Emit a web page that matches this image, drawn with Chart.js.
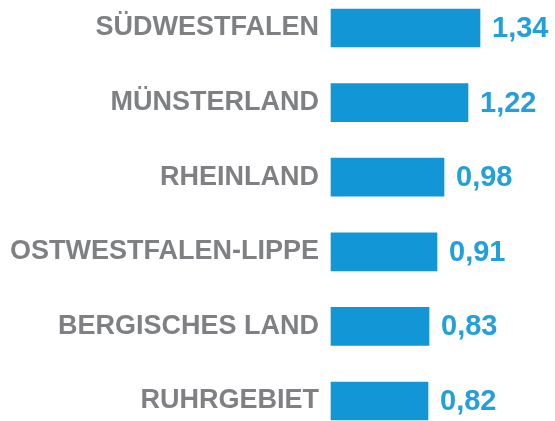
<!DOCTYPE html>
<html>
<head>
<meta charset="utf-8">
<script src="https://cdn.jsdelivr.net/npm/chart.js@4"></script>
<style>
  html, body { margin: 0; padding: 0; background: #fff; }
  #wrap { width: 555px; height: 421px; }
</style>
</head>
<body>
<div id="wrap"><canvas id="barChart" width="555" height="421"></canvas></div>
<script>
// DATA
const regions = ["SÜDWESTFALEN", "MÜNSTERLAND", "RHEINLAND", "OSTWESTFALEN-LIPPE", "BERGISCHES LAND", "RUHRGEBIET"];
const values = [1.34, 1.22, 0.98, 0.91, 0.83, 0.82];

const barBlue = "#1396d5";
const textBlue = "#22a0dc";
const labelGrey = "#7f8083";
const fontFam = "'Liberation Sans', Arial, sans-serif";

// value labels right of each bar, german decimal comma
const valueLabels = {
  id: "valueLabels",
  afterDatasetsDraw(chart) {
    const ctx = chart.ctx;
    const meta = chart.getDatasetMeta(0);
    ctx.save();
    ctx.font = "bold 29px " + fontFam;
    ctx.fillStyle = textBlue;
    ctx.textAlign = "left";
    ctx.textBaseline = "middle";
    meta.data.forEach((bar, i) => {
      let txt = values[i].toFixed(2).replace(".", ",");
      ctx.fillText(txt, bar.x + 12, bar.y + 1);
    });
    ctx.restore();
  },
};

new Chart(document.getElementById("barChart").getContext("2d"), {
  type: "bar",
  data: {
    labels: regions,
    datasets: [
      {
        data: values,
        backgroundColor: barBlue,
        borderWidth: 0,
        barThickness: 38,
        base: -0.15,
        clip: false,
      },
    ],
  },
  options: {
    indexAxis: "y",
    responsive: false,
    animation: false,
    layout: { padding: { top: 28, bottom: 20, left: 0, right: 0 } },
    plugins: {
      legend: { display: false },
      tooltip: { enabled: false },
    },
    scales: {
      x: {
        display: false,
        min: -0.15,
        max: 2.09,
      },
      y: {
        offset: false,
        border: { display: false },
        grid: { display: false, drawTicks: false },
        afterFit(scale) {
          scale.width = 331;
          scale.paddingTop = 0;
          scale.paddingBottom = 0;
        },
        ticks: {
          autoSkip: false,
          padding: 12,
          color: labelGrey,
          font: { family: fontFam, size: 27, weight: "bold" },
        },
      },
    },
  },
  plugins: [valueLabels],
});
</script>
</body>
</html>
